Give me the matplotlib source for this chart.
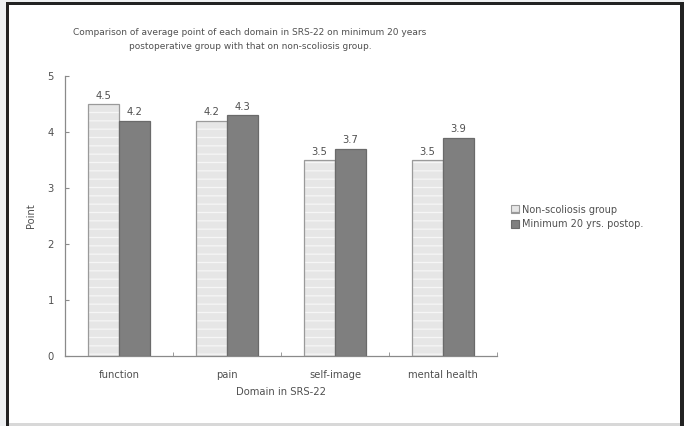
import matplotlib
matplotlib.use("Agg")
import matplotlib.pyplot as plt
from matplotlib.patches import Rectangle, Patch
import numpy as np

categories = ["function", "pain", "self-image", "mental health"]
non_scoliosis = [4.5, 4.2, 3.5, 3.5]
postop_20yrs = [4.2, 4.3, 3.7, 3.9]
series_names = ["Non-scoliosis group", "Minimum 20 yrs. postop."]
y_ticks = [0, 1, 2, 3, 4, 5]

plt.rcParams["font.family"] = ["DejaVu Sans"]
plt.rcParams["hatch.linewidth"] = 0.9

W, H = 684, 426
fig = plt.figure(figsize=(W / 100, H / 100), dpi=100)
fig.patch.set_facecolor("white")

# page frame
def px_rect(x0, y0, x1, y1, color):
    fig.patches.append(Rectangle((x0 / W, 1 - y1 / H), (x1 - x0) / W, (y1 - y0) / H,
                                 transform=fig.transFigure, facecolor=color,
                                 edgecolor="none", zorder=0))

px_rect(0, 0, 6, H, "#eef0f2")
px_rect(0, 0, W, 2, "#eef0f2")
px_rect(6, 2, 9, H, "#222222")
px_rect(6, 2, 684, 5, "#222222")
px_rect(680, 2, 684, H, "#222222")
px_rect(9, 423, 680, 426, "#d8d8d8")

ax = fig.add_axes([65 / W, 1 - 356 / H, 432 / W, 280 / H])
x = np.arange(len(categories))
w = 0.29

light_fill = "#e6e6e6"
light_edge = "#9a9a9a"
dark_fill = "#7f7f7f"
dark_edge = "#6a6a6a"

# hatched light bars: stripes first, outline on top
ax.bar(x - w / 2, non_scoliosis, w, color=light_fill, edgecolor="#f6f6f6",
       hatch="--", linewidth=0, zorder=2)
ax.bar(x - w / 2, non_scoliosis, w, fill=False, edgecolor=light_edge,
       linewidth=0.9, zorder=3)
ax.bar(x + w / 2, postop_20yrs, w, color=dark_fill, edgecolor=dark_edge,
       linewidth=0.9, zorder=3)

txt = "#505050"
for xi, v in zip(x - w / 2, non_scoliosis):
    ax.text(xi, v + 0.06, f"{v:.1f}", ha="center", va="bottom", fontsize=7.2, color=txt)
for xi, v in zip(x + w / 2, postop_20yrs):
    ax.text(xi, v + 0.06, f"{v:.1f}", ha="center", va="bottom", fontsize=7.2, color=txt)

ax.set_xlim(-0.5, len(categories) - 0.5)
ax.set_ylim(0, 5)
ax.set_yticks(y_ticks)
ax.set_yticklabels([str(t) for t in y_ticks])
ax.set_xticks(x)
ax.set_xticklabels(categories)
ax.set_xticks(np.arange(len(categories) + 1) - 0.5, minor=True)

for s in ["top", "right"]:
    ax.spines[s].set_visible(False)
for s in ["left", "bottom"]:
    ax.spines[s].set_color("#8a8a8a")
    ax.spines[s].set_linewidth(0.9)

ax.tick_params(axis="y", direction="in", length=3, color="#8a8a8a", labelsize=7.2,
               labelcolor=txt, pad=8)
ax.tick_params(axis="x", which="major", length=0, labelsize=7.2, labelcolor=txt, pad=10)
ax.tick_params(axis="x", which="minor", direction="in", length=3, color="#8a8a8a")

ax.set_ylabel("Point", fontsize=7.2, color=txt, labelpad=8)
ax.set_xlabel("Domain in SRS-22", fontsize=7.2, color=txt, labelpad=5)

fig.text(250 / W, 1 - 39.5 / H,
         "Comparison of average point of each domain in SRS-22 on minimum 20 years\n"
         "postoperative group with that on non-scoliosis group.",
         ha="center", va="center", fontsize=6.5, color=txt, linespacing=1.6)

handles = [Patch(facecolor=light_fill, edgecolor=light_edge, hatch="--", linewidth=0.8),
           Patch(facecolor=dark_fill, edgecolor=dark_edge, linewidth=0.8)]
leg = fig.legend(handles, series_names, loc="center left",
                 bbox_to_anchor=(507 / W, 1 - 217 / H), frameon=False,
                 fontsize=7, handlelength=0.8, handleheight=0.8,
                 handletextpad=0.3, labelspacing=0.5, borderaxespad=0)
for t in leg.get_texts():
    t.set_color(txt)

fig.savefig("out.png", dpi=100)
